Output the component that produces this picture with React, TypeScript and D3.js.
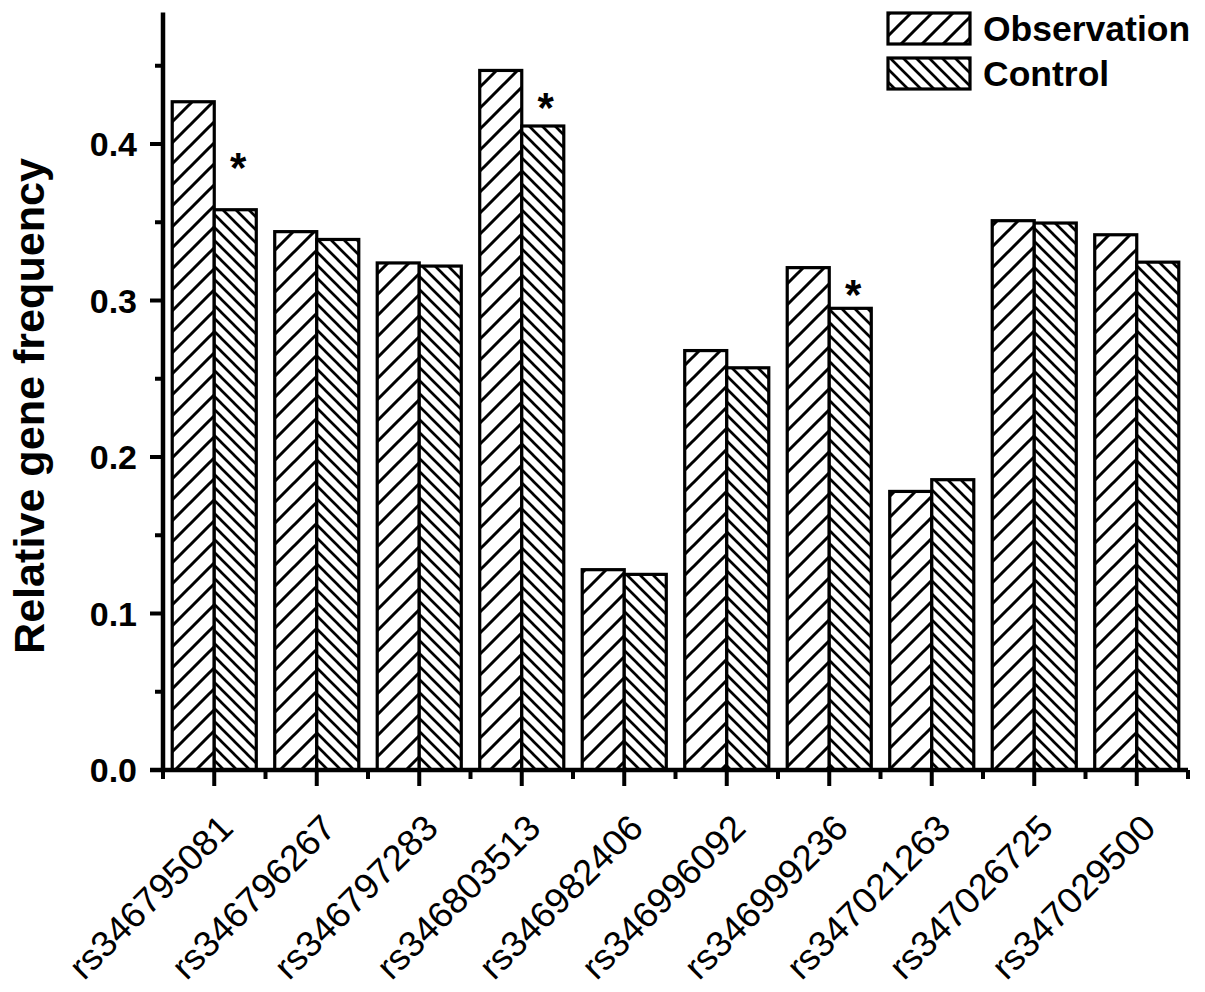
import React from "react";
import * as d3 from "d3";

const categories = [
  "rs346795081",
  "rs346796267",
  "rs346797283",
  "rs346803513",
  "rs346982406",
  "rs346996092",
  "rs346999236",
  "rs347021263",
  "rs347026725",
  "rs347029500",
];
const observation = [0.427, 0.344, 0.324, 0.447, 0.128, 0.268, 0.321, 0.178, 0.351, 0.342];
const control = [0.358, 0.339, 0.322, 0.4115, 0.125, 0.257, 0.295, 0.1855, 0.3495, 0.3245];
const seriesNames = ["Observation", "Control"];
// significance markers: category and the value level where the star sits
const starCategories = ["rs346795081", "rs346803513", "rs346999236"];
const starLevels = [0.388, 0.426, 0.307];
const yMax = 0.484;

const W = 1205;
const H = 992;
const FONT = "'Liberation Sans', Arial, Helvetica, sans-serif";

export default function App() {
  const x0 = 163;
  const x1 = 1188;
  const yBase = 770;
  const yTop = yBase - yMax * 1565;

  const y = d3.scaleLinear().domain([0, yMax]).range([yBase, yTop]);
  const xb = d3
    .scaleBand<string>()
    .domain(categories)
    .range([x0, x1])
    .paddingInner(0.18)
    .paddingOuter(0.09);
  const xs = d3.scaleBand<string>().domain(seriesNames).range([0, xb.bandwidth()]);

  const majorTicks = y.ticks(5);
  const minorTicks = y
    .ticks(10)
    .filter((t) => !majorTicks.some((m) => Math.abs(m - t) < 1e-9));
  const fmt = d3.format(".1f");
  const step = xb.step();
  const bounds = categories.map((_, i) => x0 + i * step).concat([x1]);

  const fills = ["url(#hatchObs)", "url(#hatchCtrl)"];
  const values = [observation, control];

  return (
    <svg
      width={W}
      height={H}
      style={{ position: "absolute", left: 0, top: 0, background: "#fff" }}
      fontFamily={FONT}
    >
      <defs>
        <pattern id="hatchObs" patternUnits="userSpaceOnUse" width={21} height={21}>
          <rect width={21} height={21} fill="#fff" />
          <path
            d="M-1,22 L22,-1 M-6,6 L6,-6 M15,27 L27,15"
            stroke="#000"
            strokeWidth={3}
          />
        </pattern>
        <pattern id="hatchCtrl" patternUnits="userSpaceOnUse" width={13} height={13}>
          <rect width={13} height={13} fill="#fff" />
          <path
            d="M-1,-1 L14,14 M-4,9 L4,17 M9,-4 L17,4"
            stroke="#000"
            strokeWidth={2.7}
          />
        </pattern>
      </defs>

      {/* bars */}
      {categories.map((c, i) => (
        <g key={c}>
          {seriesNames.map((s, k) => {
            const v = values[k][i];
            return (
              <rect
                key={s}
                x={(xb(c) as number) + (xs(s) as number)}
                y={y(v)}
                width={xs.bandwidth()}
                height={yBase - y(v)}
                fill={fills[k]}
                stroke="#000"
                strokeWidth={3.2}
              />
            );
          })}
        </g>
      ))}

      {/* stars */}
      {starCategories.map((c, i) => (
        <text
          key={c}
          x={(xb(c) as number) + (xs("Control") as number) + xs.bandwidth() / 2 + 3}
          y={y(starLevels[i]) + 19}
          textAnchor="middle"
          fontSize={42}
          fontWeight="bold"
        >
          *
        </text>
      ))}

      {/* y axis */}
      <line x1={x0} x2={x0} y1={yTop} y2={yBase} stroke="#000" strokeWidth={4.5} />
      {majorTicks.map((t) => (
        <g key={"M" + t}>
          <line x1={x0 - 13} x2={x0} y1={y(t)} y2={y(t)} stroke="#000" strokeWidth={4} />
          <text
            x={137}
            y={y(t)}
            textAnchor="end"
            dominantBaseline="central"
            fontSize={34}
            fontWeight="bold"
          >
            {fmt(t)}
          </text>
        </g>
      ))}
      {minorTicks.map((t) => (
        <line key={"m" + t} x1={x0 - 8} x2={x0} y1={y(t)} y2={y(t)} stroke="#000" strokeWidth={4} />
      ))}
      <text
        transform={`translate(44, 406) rotate(-90)`}
        textAnchor="middle"
        fontSize={42}
        fontWeight="bold"
        textLength={496}
        lengthAdjust="spacingAndGlyphs"
      >
        Relative gene frequency
      </text>

      {/* x axis */}
      <line x1={x0 - 13} x2={x1} y1={yBase} y2={yBase} stroke="#000" strokeWidth={4.5} />
      {bounds.map((b, i) => (
        <line key={"b" + i} x1={b} x2={b} y1={yBase} y2={yBase + 9} stroke="#000" strokeWidth={4} />
      ))}
      {categories.map((c) => {
        const cx = (xb(c) as number) + xb.bandwidth() / 2;
        return (
          <g key={"t" + c}>
            <line x1={cx} x2={cx} y1={yBase} y2={yBase + 16} stroke="#000" strokeWidth={4} />
            <text
              transform={`translate(${cx + 21}, ${yBase + 60}) rotate(-45)`}
              textAnchor="end"
              fontSize={36}
              textLength={214}
              lengthAdjust="spacingAndGlyphs"
            >
              {c}
            </text>
          </g>
        );
      })}

      {/* legend */}
      {seriesNames.map((s, k) => (
        <g key={"lg" + s}>
          <rect
            x={888}
            y={13 + k * 45}
            width={82}
            height={31}
            fill={fills[k]}
            stroke="#000"
            strokeWidth={3.2}
          />
          <text
            x={983}
            y={29 + k * 45}
            dominantBaseline="central"
            fontSize={35.5}
            fontWeight="bold"
          >
            {s}
          </text>
        </g>
      ))}
    </svg>
  );
}
